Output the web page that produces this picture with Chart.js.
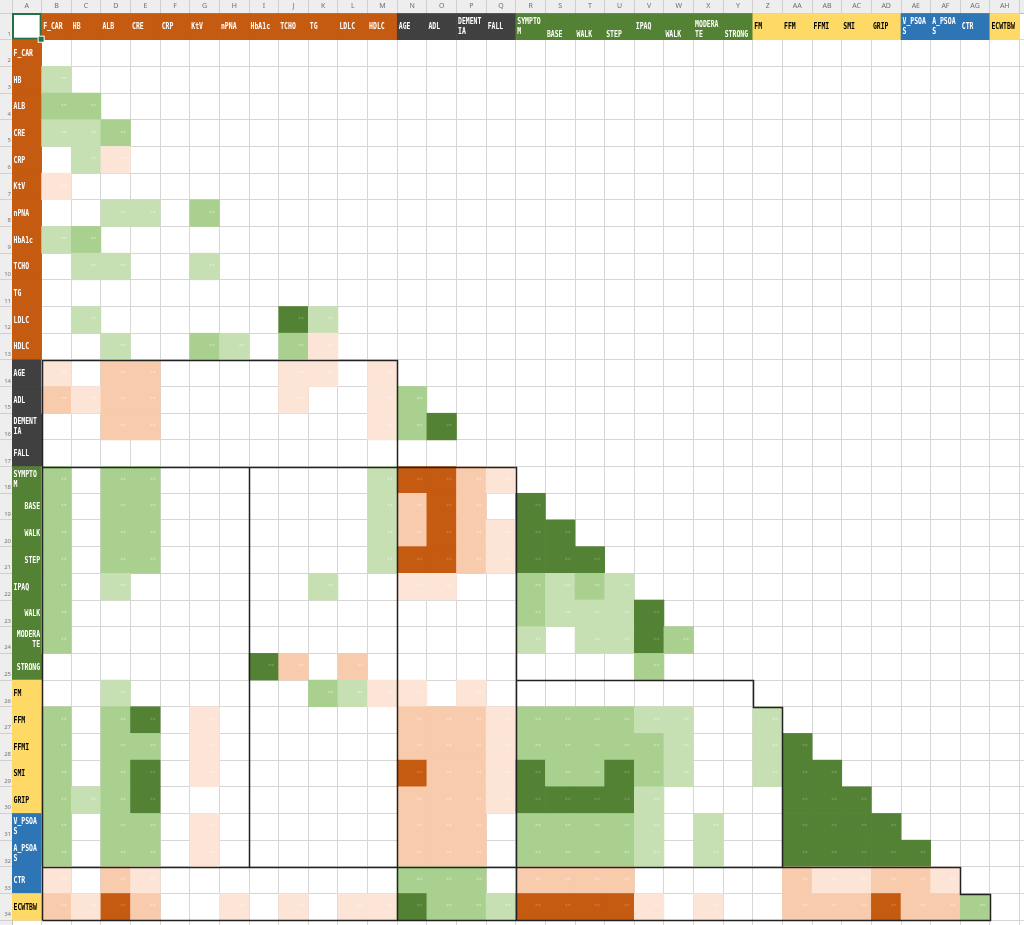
<!DOCTYPE html>
<html><head><meta charset="utf-8">
<script src="https://cdn.jsdelivr.net/npm/chart.js@4.4.1/dist/chart.umd.min.js"></script>
<style>html,body{margin:0;padding:0;background:#fff;overflow:hidden}canvas{display:block}</style>
</head><body>
<canvas id="c" width="1024" height="925"></canvas>
<script>
// ---- data ----
const variables = ['F_CAR','HB','ALB','CRE','CRP','KtV','nPNA','HbA1c','TCHO','TG','LDLC','HDLC',
  'AGE','ADL','DEMENT\nIA','FALL',
  'SYMPTO\nM','BASE','WALK','STEP','IPAQ','WALK','MODERA\nTE','STRONG',
  'FM','FFM','FFMI','SMI','GRIP','V_PSOA\nS','A_PSOA\nS','CTR','ECWTBW'];
const variableGroups = ['lab','lab','lab','lab','lab','lab','lab','lab','lab','lab','lab','lab',
  'clinical','clinical','clinical','clinical',
  'activity','activity','activity','activity','activity','activity','activity','activity',
  'body','body','body','body','body','image','image','image','body'];
const columnLetters = ['A','B','C','D','E','F','G','H','I','J','K','L','M','N','O','P','Q','R','S','T','U','V','W','X','Y','Z','AA','AB','AC','AD','AE','AF','AG','AH'];
// correlation level per lower-triangle cell: +1..+3 positive (green), -1..-3 negative (orange), 0 none
const corrLevels = [
 [],
 [1],
 [2,2],
 [1,1,2],
 [0,1,-1,0],
 [-1,0,0,0,0],
 [0,0,1,1,0,2],
 [1,2,0,0,0,0,0],
 [0,1,1,0,0,1,0,0],
 [0,0,0,0,0,0,0,0,0],
 [0,1,0,0,0,0,0,0,3,1],
 [0,0,1,0,0,2,1,0,2,-1,0],
 [-1,0,-2,-2,0,0,0,0,-1,-1,0,-1],
 [-2,-1,-2,-2,0,0,0,0,-1,0,0,-1,2],
 [0,0,-2,-2,0,0,0,0,0,0,0,-1,2,3],
 [0,0,0,0,0,0,0,0,0,0,0,0,0,0,0],
 [2,0,2,2,0,0,0,0,0,0,0,1,-3,-3,-2,-1],
 [2,0,2,2,0,0,0,0,0,0,0,1,-2,-3,-2,0,3],
 [2,0,2,2,0,0,0,0,0,0,0,1,-2,-3,-2,-1,3,3],
 [2,0,2,2,0,0,0,0,0,0,0,1,-3,-3,-2,-1,3,3,3],
 [2,0,1,0,0,0,0,0,0,1,0,0,-1,-1,0,0,2,1,2,1],
 [2,0,0,0,0,0,0,0,0,0,0,0,0,0,0,0,2,1,1,1,3],
 [2,0,0,0,0,0,0,0,0,0,0,0,0,0,0,0,1,0,1,1,3,2],
 [0,0,0,0,0,0,0,3,-2,0,-2,0,0,0,0,0,0,0,0,0,2,0,0],
 [0,0,1,0,0,0,0,0,0,2,1,-1,-1,0,-1,0,0,0,0,0,0,0,0,0],
 [2,0,2,3,0,-1,0,0,0,0,0,0,-2,-2,-2,-1,2,2,2,2,1,1,0,0,1],
 [2,0,2,2,0,-1,0,0,0,0,0,0,-2,-2,-2,-1,2,2,2,2,2,1,0,0,1,3],
 [2,0,2,3,0,-1,0,0,0,0,0,0,-3,-2,-2,-1,3,2,2,3,2,1,0,0,1,3,3],
 [2,1,2,3,0,0,0,0,0,0,0,0,-2,-2,-2,-1,3,3,3,3,1,0,0,0,0,3,3,3],
 [2,0,2,2,0,-1,0,0,0,0,0,0,-2,-2,-2,0,2,2,2,2,1,0,1,0,0,3,3,3,3],
 [2,0,2,2,0,-1,0,0,0,0,0,0,-2,-2,-2,0,2,2,2,2,1,0,1,0,0,3,3,3,3,3],
 [-1,0,-2,-1,0,0,0,0,0,0,0,0,2,2,2,0,-2,-2,-2,-2,0,0,0,0,0,-2,-1,-1,-2,-2,-1],
 [-2,-1,-3,-2,0,0,-1,0,-1,0,-1,-1,3,2,2,1,-3,-3,-3,-3,-1,0,-1,0,0,-2,-2,-2,-3,-2,-2,2]
];

// ---- styles ----
const groupFill = {lab:'#C55A11', clinical:'#404040', activity:'#548235', body:'#FFD966', image:'#2E75B6'};
const groupText = {lab:'#ffffff', clinical:'#ffffff', activity:'#ffffff', body:'#000000', image:'#ffffff'};
const levelFill = {'-3':'#C55A11','-2':'#F8CBAD','-1':'#FCE4D6','1':'#C6E0B4','2':'#A9D08E','3':'#548235'};
const rowLabelRight = new Set([17,18,19,21,22,23]);
const headBottom = new Set([17,18,19,21,22,23]);
// block outline polylines in grid units (column, row boundaries)
const outlines = [
 [[1,34],[1,13],[13,13],[13,34]],
 [[1,17],[17,17],[17,34]],
 [[8,17],[8,32]],
 [[1,32],[26,32]],
 [[17,25],[25,25],[25,26],[26,26],[26,32],[32,32],[32,33],[33,33],[33,34],[1,34]]
];

// ---- build cells ----
const cells = [], fills = [];
variables.forEach((v,i)=>{
  cells.push({x:i+1.5, y:[0,1], kind:'head'}); fills.push(groupFill[variableGroups[i]]);
  cells.push({x:0.5, y:[i+1,i+2], kind:'head'}); fills.push(groupFill[variableGroups[i]]);
});
corrLevels.forEach((row,i)=>row.forEach((lv,j)=>{
  if(lv!==0){ cells.push({x:j+1.5, y:[i+1,i+2], lv:lv}); fills.push(levelFill[String(lv)]); }
}));

function narrowText(ctx, txt, x, y, align){
  ctx.save(); ctx.translate(x,y); ctx.scale(0.72,1);
  ctx.textAlign = align; ctx.textBaseline = 'middle';
  ctx.fillText(txt,0,0); ctx.restore();
}

const sheetPlugin = {
  id:'sheet',
  beforeDraw(chart){
    const {ctx, chartArea:a} = chart;
    ctx.save();
    ctx.fillStyle = '#eeeeee'; ctx.fillRect(0,0,chart.width,chart.height);
    ctx.fillStyle = '#ffffff'; ctx.fillRect(a.left,a.top,a.right-a.left,a.bottom-a.top);
    ctx.restore();
  },
  afterDatasetsDraw(chart){
    const {ctx} = chart;
    const xs = chart.scales.x, ys = chart.scales.y;
    const px = v => xs.getPixelForValue(v), py = v => ys.getPixelForValue(v);
    ctx.save();
    // significance marks
    ctx.font = '6px "DejaVu Sans"';
    ctx.textAlign = 'center'; ctx.textBaseline = 'middle';
    cells.forEach(c=>{
      if(!c.lv) return;
      const a = Math.abs(c.lv);
      ctx.fillStyle = a===3 ? 'rgba(255,255,255,0.25)' : 'rgba(255,255,255,0.5)';
      ctx.fillText('**', px(c.x+0.25), py(c.y[0]+0.5));
    });
    // labels
    ctx.font = 'bold 9px "DejaVu Sans Mono"';
    variables.forEach((v,i)=>{
      const lines = v.split('\n');
      ctx.fillStyle = groupText[variableGroups[i]];
      const yc = py(i+1.5);
      const right = rowLabelRight.has(i);
      const xr = right ? px(1)-1.5 : px(0)+1.5;
      if(lines.length===1) narrowText(ctx, lines[0], xr, yc+0.5, right?'right':'left');
      else { narrowText(ctx, lines[0], xr, yc-5, right?'right':'left'); narrowText(ctx, lines[1], xr, yc+5, right?'right':'left'); }
      const top = py(0), xh = px(i+1)+1.5;
      if(lines.length===1){
        narrowText(ctx, lines[0], xh, top + (headBottom.has(i)?22:14), 'left');
      } else if(headBottom.has(i)){
        narrowText(ctx, lines[0], xh, top+12, 'left'); narrowText(ctx, lines[1], xh, top+22, 'left');
      } else {
        narrowText(ctx, lines[0], xh, top+9, 'left'); narrowText(ctx, lines[1], xh, top+19, 'left');
      }
    });
    // block outlines
    ctx.strokeStyle = '#222222'; ctx.lineWidth = 1.5; ctx.lineJoin = 'miter';
    outlines.forEach(pl=>{
      ctx.beginPath();
      pl.forEach((p,k)=>{ const X=Math.round(px(p[0]))+0.5, Y=Math.round(py(p[1]))+0.5; k?ctx.lineTo(X,Y):ctx.moveTo(X,Y); });
      ctx.stroke();
    });
    // selected cell A1
    const x0=px(0), x1=px(1), y0=py(0), y1=py(1);
    ctx.strokeStyle = '#217346'; ctx.lineWidth = 2;
    ctx.strokeRect(x0+1, y0+1, x1-x0-2, y1-y0-2);
    ctx.fillStyle = '#ffffff'; ctx.fillRect(x1-4, y1-4, 7, 7);
    ctx.fillStyle = '#217346'; ctx.fillRect(x1-3, y1-3, 5, 5);
    ctx.restore();
  }
};

new Chart(document.getElementById('c'), {
  type:'bar',
  data:{ datasets:[{ data:cells, backgroundColor:fills, borderWidth:0, barPercentage:1, categoryPercentage:1, grouped:false }] },
  options:{
    responsive:false, animation:false, events:[], devicePixelRatio:1,
    layout:{padding:0},
    plugins:{legend:{display:false}, tooltip:{enabled:false}},
    scales:{
      x:{ type:'linear', position:'top', min:0, max:34.15, offset:false,
        afterBuildTicks:s=>{ s.ticks = Array.from({length:35},(_,i)=>({value:i})); },
        afterFit:s=>{ s.height = 13; s.paddingLeft = 0; s.paddingRight = 0; },
        grid:{ color:'#d6d6d6', lineWidth:1, offset:false, drawTicks:true, tickLength:13, tickColor:'#d0d0d0' },
        border:{ display:true, color:'#bdbdbd' },
        ticks:{ autoSkip:false, maxRotation:0, minRotation:0, padding:-10, labelOffset:14.8,
          font:{size:7, family:'"Noto Sans"'}, color:'#6e6e6e',
          callback:v=> columnLetters[v] !== undefined ? columnLetters[v] : '' } },
      y:{ type:'linear', reverse:true, min:0, max:34.18, offset:false,
        afterBuildTicks:s=>{ s.ticks = Array.from({length:35},(_,i)=>({value:i})); },
        afterFit:s=>{ s.width = 12; s.paddingTop = 0; s.paddingBottom = 0; },
        grid:{ color:'#d6d6d6', lineWidth:1, drawTicks:true, tickLength:12, tickColor:'#d0d0d0' },
        border:{ display:true, color:'#bdbdbd' },
        ticks:{ autoSkip:false, padding:-11, labelOffset:21,
          font:{size:6, family:'"Noto Sans"'}, color:'#777777',
          callback:v=> String(v+1) } }
    }
  },
  plugins:[sheetPlugin]
});
</script>
</body></html>
